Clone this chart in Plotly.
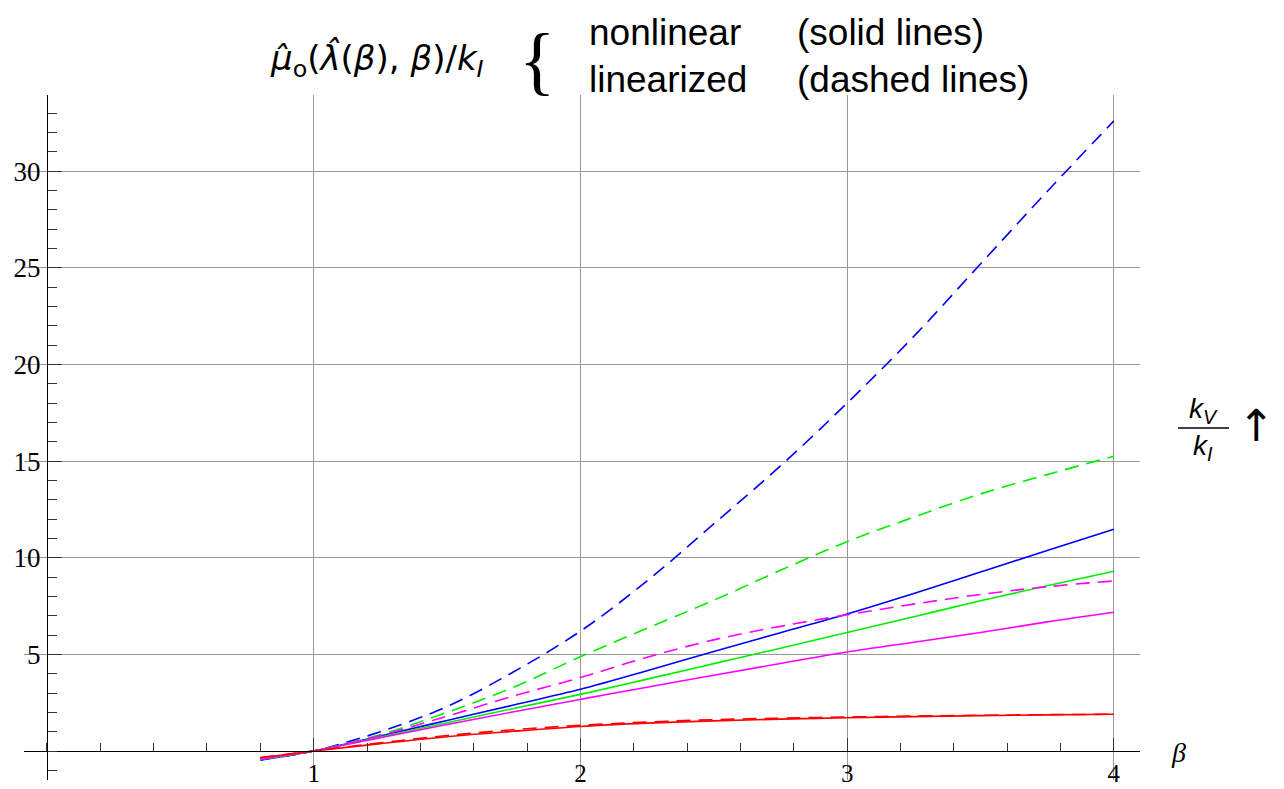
import plotly.graph_objects as go

# ---------------- data ----------------
beta = [0.8, 1.0, 1.25, 1.5, 1.75, 2.0, 2.25, 2.5, 2.75, 3.0, 3.25, 3.5, 3.75, 4.0]

blue_nonlin = [-0.47, 0.0, 0.78, 1.58, 2.38, 3.19, 4.15, 5.15, 6.12, 7.09, 8.15, 9.26, 10.37, 11.47]
green_nonlin = [-0.43, 0.0, 0.72, 1.46, 2.2, 2.93, 3.72, 4.52, 5.32, 6.13, 6.95, 7.77, 8.55, 9.3]
magenta_nonlin = [-0.4, 0.0, 0.69, 1.37, 2.03, 2.67, 3.3, 3.92, 4.53, 5.12, 5.63, 6.13, 6.68, 7.18]
red_nonlin = [-0.35, 0.0, 0.38, 0.74, 1.02, 1.27, 1.44, 1.56, 1.65, 1.72, 1.78, 1.83, 1.87, 1.9]

blue_lin = [-0.45, 0.0, 1.0, 2.3, 4.1, 6.2, 8.8, 11.75, 14.75, 18.0, 21.45, 25.2, 28.95, 32.6]
green_lin = [-0.44, 0.0, 0.85, 2.0, 3.3, 4.88, 6.35, 7.8, 9.35, 10.83, 12.1, 13.3, 14.3, 15.25]
magenta_lin = [-0.42, 0.0, 0.8, 1.8, 2.85, 3.8, 4.85, 5.75, 6.45, 7.05, 7.6, 8.1, 8.5, 8.8]
red_lin = [-0.34, 0.0, 0.42, 0.8, 1.1, 1.33, 1.5, 1.62, 1.7, 1.76, 1.81, 1.85, 1.88, 1.9]

x_major_ticks = [1, 2, 3, 4]
y_major_ticks = [5, 10, 15, 20, 25, 30]

# ---------------- layout geometry ----------------
W, H = 1284, 789
L, R, T, B = 24, 1140, 95, 780
XMIN, XMAX = -0.086, 4.098
YMIN, YMAX = -1.5, 33.94


def px(xp):
    return (xp - L) / (R - L)


def py(yp):
    return (B - yp) / (B - T)


colors = {"blue": "#0000ff", "green": "#00ee00", "magenta": "#ff00ff", "red": "#ff0000"}

fig = go.Figure()
solid = [("blue", blue_nonlin), ("green", green_nonlin), ("magenta", magenta_nonlin), ("red", red_nonlin)]
dashed = [("blue", blue_lin), ("green", green_lin), ("magenta", magenta_lin), ("red", red_lin)]

for name, ys in solid:
    fig.add_trace(go.Scatter(x=beta, y=ys, mode="lines", line_shape="spline",
                             line=dict(color=colors[name], width=1.6), showlegend=False,
                             name=name + " nonlinear"))
for name, ys in dashed:
    fig.add_trace(go.Scatter(x=beta, y=ys, mode="lines", line_shape="spline",
                             line=dict(color=colors[name], width=1.6, dash="14px,8px"),
                             showlegend=False, name=name + " linearized"))

tick_font = dict(family="Liberation Serif", size=27, color="black")

fig.update_layout(
    width=W, height=H,
    margin=dict(l=L, r=W - R, t=T, b=H - B, pad=0, autoexpand=False),
    paper_bgcolor="white", plot_bgcolor="white",
    xaxis=dict(
        range=[XMIN, XMAX], anchor="free", position=(0 - YMIN) / (YMAX - YMIN),
        automargin=False,
        showline=True, linecolor="black", linewidth=1.3,
        tickmode="array", tickvals=x_major_ticks, ticktext=[str(v) for v in x_major_ticks],
        ticks="inside", ticklen=13, tickwidth=1.3, tickcolor="#333",
        tickfont=dict(family="Liberation Serif", size=25, color="black"), ticklabelstandoff=0,
        showgrid=True, gridcolor="#999999", gridwidth=1, zeroline=False,
        minor=dict(tickmode="linear", tick0=0, dtick=0.2, ticks="inside", ticklen=8,
                   tickwidth=1.2, tickcolor="#333", showgrid=False),
    ),
    yaxis=dict(
        range=[YMIN, YMAX], anchor="free", position=(0 - XMIN) / (XMAX - XMIN),
        automargin=False,
        showline=True, linecolor="black", linewidth=1.3,
        tickmode="array", tickvals=y_major_ticks, ticktext=[str(v) for v in y_major_ticks],
        ticks="inside", ticklen=14, tickwidth=1.3, tickcolor="#333",
        tickfont=tick_font, ticklabelstandoff=1,
        showgrid=True, gridcolor="#999999", gridwidth=1, zeroline=False,
        minor=dict(tickmode="linear", tick0=0, dtick=1, ticks="inside", ticklen=9,
                   tickwidth=1.2, tickcolor="#333", showgrid=False),
    ),
)

ann = []
sans = "Liberation Sans"
ann.append(dict(x=px(377), y=py(60), xref="paper", yref="paper", showarrow=False,
                xanchor="center", yanchor="middle",
                text="<i>μ\u0302</i><sub>o</sub>(<i>λ\u0302</i>(<i>β</i>), <i>β</i>)/<i>k<sub>I</sub></i>",
                font=dict(family="DejaVu Sans", size=34, color="black")))
ann.append(dict(x=px(537), y=py(60), xref="paper", yref="paper", showarrow=False,
                xanchor="center", yanchor="middle", text="{",
                font=dict(family="Liberation Serif", size=76, color="black")))
for txt, xl, yc in [("nonlinear", 587, 32), ("(solid lines)", 795, 32),
                    ("linearized", 587, 80), ("(dashed lines)", 795, 80)]:
    ann.append(dict(x=px(xl), y=py(yc), xref="paper", yref="paper", showarrow=False,
                    xanchor="left", yanchor="middle", text=txt,
                    font=dict(family=sans, size=37, color="black")))
ann.append(dict(x=px(1178), y=py(752), xref="paper", yref="paper", showarrow=False,
                xanchor="center", yanchor="middle", text="<i>β</i>",
                font=dict(family="Liberation Serif", size=28, color="black")))
ann.append(dict(x=px(1203), y=py(410), xref="paper", yref="paper", showarrow=False,
                xanchor="center", yanchor="middle", text="<i>k<sub>V</sub></i>",
                font=dict(family=sans, size=28, color="black")))
ann.append(dict(x=px(1203), y=py(447), xref="paper", yref="paper", showarrow=False,
                xanchor="center", yanchor="middle", text="<i>k<sub>I</sub></i>",
                font=dict(family=sans, size=28, color="black")))
ann.append(dict(x=px(1256), y=py(425), xref="paper", yref="paper", showarrow=False,
                xanchor="center", yanchor="middle", text="↑",
                font=dict(family="DejaVu Sans", size=44, color="black")))
fig.update_layout(annotations=ann)

fig.add_shape(type="line", xref="paper", yref="paper",
              x0=px(1178), x1=px(1229), y0=py(428), y1=py(428),
              line=dict(color="black", width=1.5))

fig.write_html("out.html")
